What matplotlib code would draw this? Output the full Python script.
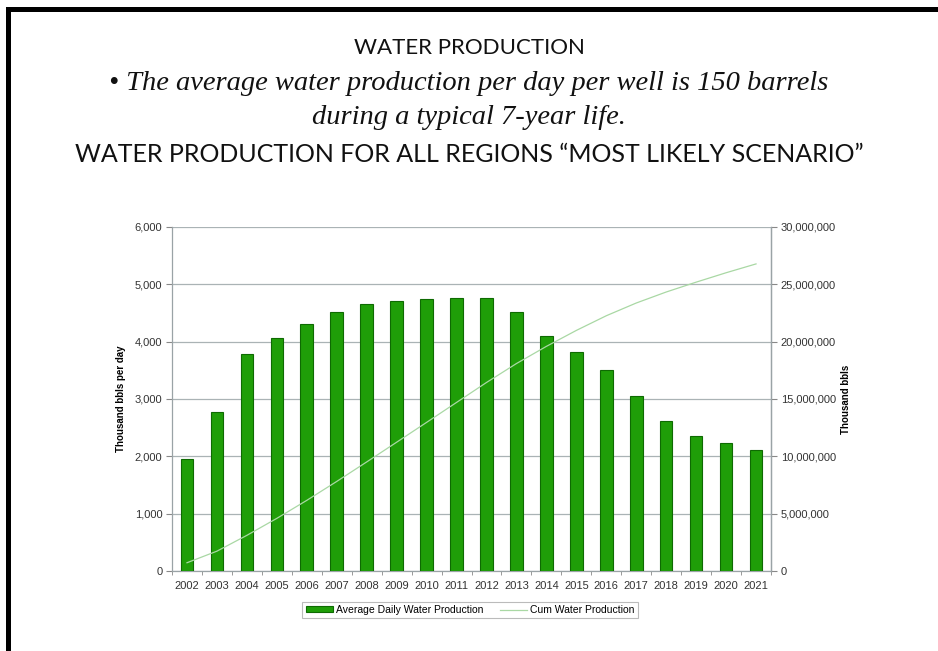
import matplotlib.pyplot as plt
from matplotlib.ticker import FuncFormatter, MultipleLocator
import numpy as np

years = [str(y) for y in range(2002, 2022)]
daily_prod = [1960, 2770, 3780, 4070, 4300, 4520, 4650, 4710, 4750, 4770,
              4770, 4520, 4100, 3820, 3500, 3050, 2610, 2360, 2240, 2110]
# cumulative water production, thousand bbls
cum_prod = [720000, 1730000, 3110000, 4590000, 6160000, 7810000, 9510000,
            11230000, 12960000, 14700000, 16440000, 18090000, 19590000,
            20980000, 22260000, 23370000, 24330000, 25190000, 26010000,
            26780000]

title = "WATER PRODUCTION"
bullet_1 = "\u2022 The average water production per day per well is 150 barrels"
bullet_2 = "during a typical 7-year life."
subtitle = "WATER PRODUCTION FOR ALL REGIONS \u201cMOST LIKELY SCENARIO\u201d"

fig = plt.figure(figsize=(9.38, 6.51), dpi=100)

# black frame on top and left edge
fig.add_artist(plt.Rectangle((6 / 938, 1 - 12 / 651), 1, 5 / 651,
                             transform=fig.transFigure, color='black', lw=0))
fig.add_artist(plt.Rectangle((6 / 938, 0), 5 / 938, 1 - 7 / 651,
                             transform=fig.transFigure, color='black', lw=0))

fig.text(0.5, 1 - 48 / 651, title, ha='center', va='center',
         family='Lato', fontsize=16, color='#111111')
fig.text(0.5, 1 - 84 / 651, bullet_1, ha='center', va='center',
         family='Liberation Serif', style='italic', fontsize=20.5, color='#111111')
fig.text(0.5, 1 - 118 / 651, bullet_2, ha='center', va='center',
         family='Liberation Serif', style='italic', fontsize=20.5, color='#111111')
fig.text(0.5, 1 - 154 / 651, subtitle, ha='center', va='center',
         family='Lato', fontsize=18, color='#111111')

ax = fig.add_axes([172 / 938, 80 / 651, 599 / 938, 344 / 651])
x = np.arange(len(years))
bars = ax.bar(x, daily_prod, width=0.42, color='#1f9e08', edgecolor='#0e6a02',
              linewidth=0.8, zorder=3, label='Average Daily Water Production')
ax.set_xlim(-0.5, len(years) - 0.5)
ax.set_ylim(0, 6000)
ax.yaxis.set_major_locator(MultipleLocator(1000))
ax.yaxis.set_major_formatter(FuncFormatter(lambda v, p: f"{int(v):,}"))
ax.grid(axis='y', color='#aab3b5', lw=0.9, zorder=0)
ax.set_xticks(x)
ax.set_xticklabels(years)
ax.set_xticks(np.arange(-0.5, len(years)), minor=True)
ax.tick_params(axis='x', which='major', length=0, pad=7)
ax.tick_params(axis='x', which='minor', length=3, color='#888888')
ax.tick_params(axis='y', length=4, color='#888888', pad=3)
ax.tick_params(labelsize=8, labelcolor='#333333')
for lab in ax.get_xticklabels() + ax.get_yticklabels():
    lab.set_family('Liberation Sans')
ax.spines['top'].set_visible(False)
for s in ['left', 'right', 'bottom']:
    ax.spines[s].set_color('#9aa3a6')
    ax.spines[s].set_linewidth(0.9)
ax.set_ylabel('Thousand bbls per day', fontsize=7, fontweight='bold',
              family='Liberation Sans', labelpad=6)

ax2 = ax.twinx()
line, = ax2.plot(x, cum_prod, color='#a9d8a4', lw=0.9, zorder=4,
                 label='Cum Water Production')
ax2.set_ylim(0, 30000000)
ax2.yaxis.set_major_locator(MultipleLocator(5000000))
ax2.yaxis.set_major_formatter(FuncFormatter(lambda v, p: f"{int(v):,}"))
ax2.tick_params(axis='y', length=4, color='#888888', pad=3,
                labelsize=8, labelcolor='#333333')
for lab in ax2.get_yticklabels():
    lab.set_family('Liberation Sans')
ax2.spines['top'].set_visible(False)
ax2.spines['left'].set_visible(False)
ax2.spines['bottom'].set_visible(False)
ax2.spines['right'].set_color('#9aa3a6')
ax2.spines['right'].set_linewidth(0.9)
ax2.set_ylabel('Thousand bbls', fontsize=7, fontweight='bold',
               family='Liberation Sans', labelpad=4)

leg = fig.legend([bars, line], ['Average Daily Water Production', 'Cum Water Production'],
                 loc='center', bbox_to_anchor=(470 / 938, 1 - 610 / 651), ncol=2,
                 fancybox=False, edgecolor='#bbbbbb', framealpha=1,
                 prop={'family': 'Liberation Sans', 'size': 7.5},
                 handlelength=2.6, handleheight=0.5, columnspacing=1.6,
                 borderpad=0.3, handletextpad=0.3)
leg.get_frame().set_linewidth(0.8)

fig.savefig('out.png', dpi=100)
